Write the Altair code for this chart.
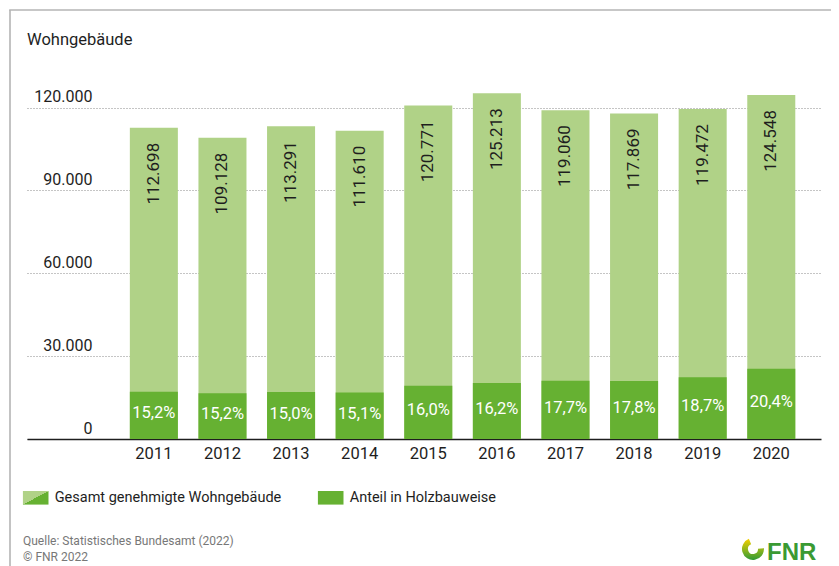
import altair as alt
import pandas as pd

years = ["2011", "2012", "2013", "2014", "2015", "2016", "2017", "2018", "2019", "2020"]
total = [112698, 109128, 113291, 111610, 120771, 125213, 119060, 117869, 119472, 124548]
wood = [17130, 16587, 16994, 16853, 19323, 20285, 21074, 20981, 22341, 25408]
pct_labels = ["15,2%", "15,2%", "15,0%", "15,1%", "16,0%", "16,2%", "17,7%", "17,8%", "18,7%", "20,4%"]
series = ["Gesamt genehmigte Wohngebäude", "Anteil in Holzbauweise"]
colors = ["#b0d287", "#66b132"]
y_ticks = [0, 30000, 60000, 90000, 120000]

FONT = "Roboto, sans-serif"
TXT = "#1e1e1e"

df = pd.DataFrame({
    "year": years,
    "total": total,
    "wood": wood,
    "total_label": [f"{v:,}".replace(",", ".") for v in total],
    "pct_label": pct_labels,
})

x_enc = alt.X(
    "year:N",
    title=None,
    scale=alt.Scale(paddingInner=0.3, paddingOuter=0.937, align=0.8),
    axis=alt.Axis(
        labelAngle=0, ticks=False, domain=True, domainColor=TXT, domainWidth=1.5,
        labelFont=FONT, labelFontSize=16.5, labelColor=TXT, labelPadding=6, grid=False,
    ),
)
y_scale = alt.Scale(domain=[0, 130000], nice=False)

base = alt.Chart(df)

# legend swatch of the first entry: light upper-left / dark lower-right split
split_swatch = alt.ExprRef(
    expr="{gradient: 'linear', x1: 0, y1: 0, x2: 1, y2: 1, stops: ["
    "{offset: 0, color: '#b0d287'}, {offset: 0.5, color: '#b0d287'}, "
    "{offset: 0.5, color: '#66b132'}, {offset: 1, color: '#66b132'}]}"
)
legend_scale = alt.Scale(domain=series, range=[split_swatch, colors[1]])
legend = alt.Legend(
    orient="none", legendX=-4.3, legendY=404.7, direction="horizontal", title=None,
    symbolType="M-1,-0.53H1V0.53H-1Z", symbolSize=655, symbolStrokeWidth=0,
    symbolOpacity=1, labelFont=FONT, labelFontSize=14.5, labelColor=TXT,
    labelOffset=6, columnPadding=36, padding=0, labelLimit=400,
)

light = base.mark_bar(color=colors[0]).encode(
    x=x_enc,
    y=alt.Y(
        "total:Q", title=None, scale=y_scale,
        axis=alt.Axis(
            values=y_ticks, domain=False, ticks=False, grid=True,
            gridDash=[1, 2], gridColor="#8a8a8a", gridWidth=1,
            labelFont=FONT, labelFontSize=16, labelColor=TXT,
            labelAlign="right", labelBaseline="alphabetic", labelPadding=-65,
            labelOffset=-6,
            labelExpr="replace(format(datum.value, ','), ',', '.')",
        ),
    ),
)

dark = base.mark_bar(color=colors[1]).encode(
    x=x_enc,
    y=alt.Y("wood:Q", scale=y_scale),
)

one = alt.Data(values=[{"a": 1}])

legend_layer = alt.Chart(one).transform_calculate(
    series="'" + series[0] + "'"
).mark_rect().encode(
    x=alt.value(0), x2=alt.value(0), y=alt.value(0), y2=alt.value(0),
    color=alt.Color("series:N", scale=legend_scale, legend=legend),
)

total_text = base.mark_text(
    angle=270, align="right", baseline="middle", dx=-15,
    font=FONT, fontSize=17, color=TXT,
).encode(x=x_enc, y=alt.Y("total:Q", scale=y_scale), text="total_label:N")

pct_text = base.transform_calculate(mid="datum.wood / 2").mark_text(
    align="center", baseline="middle", dy=-2,
    font=FONT, fontSize=16.5, color="white",
).encode(x=x_enc, y=alt.Y("mid:Q", scale=y_scale), text="pct_label:N")

frame_left = alt.Chart(one).mark_rule(color="#b4b4b4", strokeWidth=1.6).encode(
    x=alt.value(-17), y=alt.value(-70), y2=alt.value(490)
)
frame_top = alt.Chart(one).mark_rule(color="#b4b4b4", strokeWidth=1.6).encode(
    x=alt.value(-17.8), x2=alt.value(830), y=alt.value(-70)
)

title_text = alt.Chart(one).mark_text(
    align="left", baseline="alphabetic", font=FONT, fontSize=16.5, color=TXT
).encode(x=alt.value(0), y=alt.value(-35), text=alt.value("Wohngebäude"))

src_text = alt.Chart(one).mark_text(
    align="left", baseline="alphabetic", font=FONT, fontSize=12, color="#777777"
).encode(x=alt.value(-4), y=alt.value(465), text=alt.value("Quelle: Statistisches Bundesamt (2022)"))

copy_text = alt.Chart(one).mark_text(
    align="left", baseline="alphabetic", font=FONT, fontSize=12, color="#777777"
).encode(x=alt.value(-4), y=alt.value(481), text=alt.value("© FNR 2022"))

grad = alt.LinearGradient(
    gradient="linear", x1=0, x2=0, y1=0, y2=1,
    stops=[alt.GradientStop(offset=0, color="#f5d000"), alt.GradientStop(offset=1, color="#2f9a36")],
)
swoosh = alt.Chart(one).mark_arc(
    theta=1.5, theta2=5.9, radius=11, radius2=5, color=grad
).encode(x=alt.value(726), y=alt.value(469))

fnr_text = alt.Chart(one).mark_text(
    align="left", baseline="alphabetic", font="Liberation Sans, sans-serif",
    fontSize=24, fontWeight="bold", color="#3a9a33"
).encode(x=alt.value(740), y=alt.value(480), text=alt.value("FNR"))

chart = alt.layer(
    light, dark, legend_layer, total_text, pct_text, frame_left, frame_top, title_text,
    src_text, copy_text, swoosh, fnr_text,
).properties(
    width=794, height=359,
    autosize=alt.AutoSizeParams(type="none"),
    padding={"left": 19, "top": 72, "right": 10, "bottom": 127},
).configure_view(stroke=None)

chart.save("out.html", embed_options={"renderer": "svg", "actions": False})
